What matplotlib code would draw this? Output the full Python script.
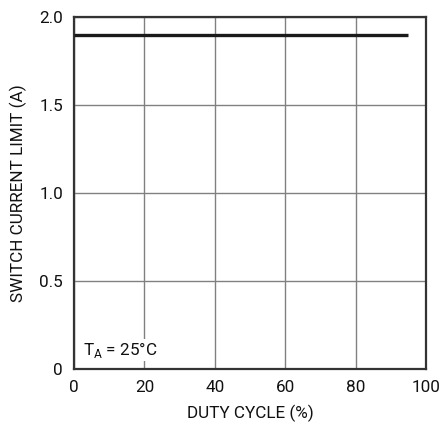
import matplotlib
matplotlib.use("Agg")
import matplotlib.pyplot as plt

# switch current limit vs duty cycle
duty = [0, 95]
ilim = [1.9, 1.9]
xticks = [0, 20, 40, 60, 80, 100]
yticks = [0, 0.5, 1.0, 1.5, 2.0]
ytick_labels = ["0", "0.5", "1.0", "1.5", "2.0"]

plt.rcParams["font.family"] = ["Roboto", "DejaVu Sans"]
plt.rcParams["font.size"] = 12

fig = plt.figure(figsize=(4.4, 4.24), dpi=100)
ax = fig.add_axes([74 / 440, 1 - 369 / 424, 352 / 440, 352 / 424])

ax.plot(duty, ilim, color="#1a1a1a", lw=2.4, solid_capstyle="butt", zorder=3)

ax.set_xlim(0, 100)
ax.set_ylim(0, 2.0)
ax.set_xticks(xticks)
ax.set_yticks(yticks)
ax.set_yticklabels(ytick_labels)
ax.tick_params(length=0, colors="#111111", labelsize=12.3)
ax.tick_params(axis="x", pad=8)
ax.tick_params(axis="y", pad=8)
ax.grid(True, color="#808080", lw=1.0)
ax.set_axisbelow(True)
for s in ax.spines.values():
    s.set_color("#333333")
    s.set_linewidth(1.6)

ax.set_xlabel("DUTY CYCLE (%)", fontsize=12.3, color="#111111", labelpad=7)
ax.set_ylabel("SWITCH CURRENT LIMIT (A)", fontsize=12.3, color="#111111", labelpad=9)

ax.text(2.6, 0.08, "T$_\\mathregular{A}$ = 25°C", fontsize=12.3, color="#111111",
        bbox=dict(facecolor="white", edgecolor="none", pad=1.0), zorder=4)

fig.savefig("out.png", dpi=100)
